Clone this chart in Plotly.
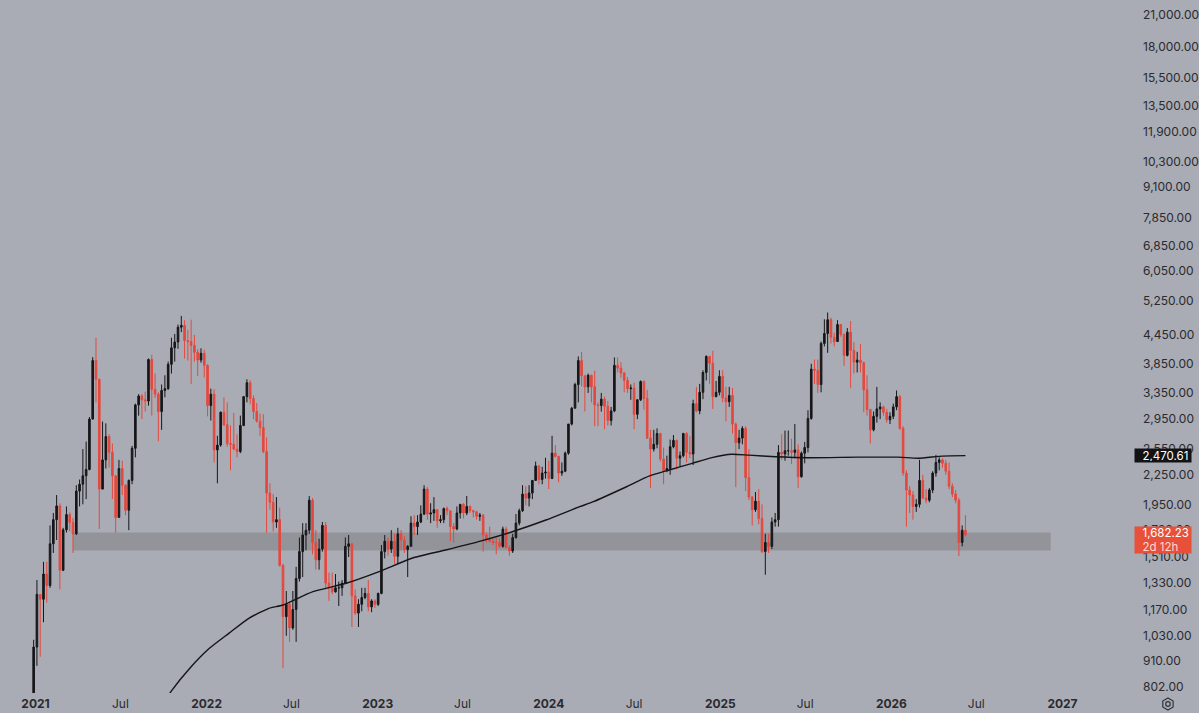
import math
import pandas as pd
import plotly.graph_objects as go

# ---------------- data (weekly OHLC, weeks starting 2020-12-28) ----------------
ohlc_2021 = [
    (737, 1010, 715, 975), (975, 1350, 890, 1259), (1259, 1260, 930, 1230), (1230, 1475, 1100, 1390),
    (1390, 1475, 1210, 1315), (1315, 1760, 1300, 1610), (1610, 1870, 1540, 1810), (1810, 2040, 1640, 1935),
    (1935, 1960, 1290, 1416), (1416, 1740, 1410, 1723), (1723, 1930, 1700, 1855), (1855, 1875, 1710, 1785),
    (1785, 1825, 1540, 1690), (1690, 2140, 1680, 2080), (2080, 2200, 1930, 2150), (2150, 2550, 1950, 2240),
    (2240, 2645, 2000, 2310), (2310, 2980, 2300, 2950), (2950, 3985, 2950, 3920), (3920, 4380, 3200, 3580),
    (3580, 3590, 1730, 2100), (2100, 2915, 2100, 2420), (2420, 2890, 2320, 2710), (2710, 2740, 2330, 2510),
    (2510, 2620, 2000, 2240), (2240, 2240, 1700, 1830), (1830, 2420, 1830, 2320), (2320, 2410, 2040, 2140),
    (2140, 2150, 1850, 1895), (1895, 2200, 1720, 2190), (2190, 2590, 2150, 2560), (2560, 3180, 2450, 3160),
    (3160, 3330, 3000, 3300), (3300, 3330, 2950, 3240), (3240, 3370, 3060, 3220), (3220, 3960, 3150, 3940),
    (3940, 4030, 3000, 3410), (3410, 3680, 3270, 3330), (3330, 3360, 2650, 3060), (3060, 3490, 2800, 3390),
    (3390, 3650, 3280, 3420), (3420, 3900, 3400, 3850), (3850, 4380, 3680, 4170), (4170, 4460, 3900, 4290),
    (4290, 4670, 4150, 4610), (4610, 4870, 4500, 4650), (4650, 4770, 3960, 4320), (4320, 4550, 3920, 4300),
    (4300, 4780, 3500, 4220), (4220, 4440, 3900, 4080), (4080, 4140, 3640, 3930), (3930, 4160, 3880, 4060),
    (4060, 4130, 3610, 3830),
]
ohlc_2022 = [
    (3830, 3850, 2990, 3150), (3150, 3420, 2930, 3330), (3330, 3410, 2390, 2540), (2540, 2720, 2160, 2600),
    (2600, 3060, 2580, 3050), (3050, 3280, 2850, 2870), (2870, 3200, 2580, 2620), (2620, 2860, 2300, 2610),
    (2610, 3040, 2540, 2550), (2550, 2740, 2450, 2520), (2520, 3000, 2500, 2860), (2860, 3300, 2850, 3290),
    (3290, 3580, 3200, 3520), (3520, 3560, 3170, 3260), (3260, 3310, 2950, 3060), (3060, 3190, 2900, 2920),
    (2920, 3030, 2720, 2830), (2830, 3020, 2500, 2520), (2520, 2700, 1700, 2060), (2060, 2160, 1900, 1970),
    (1970, 2050, 1710, 1790), (1790, 2020, 1740, 1810), (1810, 1920, 1440, 1450), (1450, 1460, 880, 1130),
    (1130, 1280, 1030, 1200), (1200, 1210, 1000, 1070), (1070, 1280, 1060, 1170), (1170, 1440, 1000, 1360),
    (1360, 1660, 1340, 1550), (1550, 1780, 1370, 1680), (1680, 1780, 1560, 1720), (1720, 2030, 1690, 1990),
    (1990, 2010, 1530, 1620), (1620, 1720, 1420, 1490), (1490, 1650, 1420, 1570), (1570, 1790, 1550, 1760),
    (1760, 1790, 1300, 1330), (1330, 1400, 1220, 1300), (1300, 1400, 1260, 1275), (1275, 1390, 1270, 1300),
    (1300, 1340, 1190, 1300), (1300, 1350, 1250, 1330), (1330, 1660, 1330, 1590), (1590, 1680, 1510, 1610),
    (1610, 1610, 1075, 1250), (1250, 1290, 1140, 1150), (1150, 1230, 1075, 1200), (1200, 1300, 1160, 1240),
    (1240, 1300, 1230, 1265), (1265, 1350, 1160, 1185), (1185, 1230, 1155, 1220), (1220, 1230, 1180, 1200),
]
ohlc_2023 = [
    (1200, 1270, 1190, 1265), (1265, 1600, 1260, 1550), (1550, 1680, 1500, 1630), (1630, 1660, 1520, 1570),
    (1570, 1720, 1540, 1630), (1630, 1690, 1460, 1515), (1515, 1740, 1460, 1690), (1690, 1720, 1560, 1640),
    (1640, 1670, 1540, 1565), (1565, 1600, 1370, 1590), (1590, 1840, 1590, 1780), (1780, 1850, 1680, 1750),
    (1750, 1850, 1680, 1790), (1790, 1940, 1780, 1860), (1860, 2140, 1850, 2100), (2100, 2120, 1810, 1860),
    (1860, 1960, 1780, 1870), (1870, 2020, 1800, 1900), (1900, 1900, 1740, 1800), (1800, 1850, 1780, 1810),
    (1810, 1920, 1780, 1910), (1910, 1930, 1850, 1890), (1890, 1890, 1630, 1750), (1750, 1780, 1620, 1730),
    (1730, 1930, 1720, 1870), (1870, 1950, 1820, 1950), (1950, 1960, 1820, 1870), (1870, 2030, 1850, 1930),
    (1930, 1940, 1870, 1890), (1890, 1900, 1830, 1880), (1880, 1890, 1810, 1840), (1840, 1870, 1800, 1850),
    (1850, 1860, 1550, 1680), (1680, 1700, 1620, 1650), (1650, 1750, 1620, 1630), (1630, 1660, 1600, 1620),
    (1620, 1660, 1530, 1620), (1620, 1650, 1580, 1590), (1590, 1750, 1580, 1730), (1730, 1750, 1580, 1580),
    (1580, 1600, 1520, 1555), (1555, 1690, 1540, 1660), (1660, 1860, 1650, 1780), (1780, 1910, 1760, 1890),
    (1890, 2140, 1880, 2050), (2050, 2130, 1940, 2010), (2010, 2140, 1930, 2060), (2060, 2190, 2000, 2190),
    (2190, 2400, 2190, 2350), (2350, 2360, 2150, 2200), (2200, 2340, 2150, 2270), (2270, 2445, 2210, 2280),
]
ohlc_2024 = [
    (2280, 2410, 2100, 2210), (2210, 2720, 2210, 2500), (2500, 2600, 2450, 2460), (2460, 2470, 2170, 2270),
    (2270, 2390, 2240, 2290), (2290, 2520, 2280, 2500), (2500, 2880, 2480, 2880), (2880, 3130, 2860, 3110),
    (3110, 3520, 3110, 3490), (3490, 4000, 3200, 3920), (3920, 4090, 3460, 3640), (3640, 3650, 3060, 3450),
    (3450, 3680, 3350, 3650), (3650, 3660, 3200, 3450), (3450, 3730, 2850, 3160), (3160, 3200, 2850, 3150),
    (3150, 3350, 3060, 3250), (3250, 3290, 2810, 3140), (3140, 3220, 2860, 2930), (2930, 3130, 2860, 3070),
    (3070, 3980, 3050, 3830), (3830, 3980, 3700, 3780), (3780, 3890, 3600, 3690), (3690, 3710, 3360, 3560),
    (3560, 3620, 3350, 3420), (3420, 3490, 3240, 3430), (3430, 3520, 2810, 3020), (3020, 3250, 2950, 3240),
    (3240, 3560, 3220, 3540), (3540, 3560, 3090, 3260), (3260, 3400, 2680, 2690), (2690, 2800, 2110, 2550),
    (2550, 2800, 2520, 2610), (2610, 2820, 2560, 2750), (2750, 2760, 2400, 2430), (2430, 2570, 2150, 2300),
    (2300, 2470, 2280, 2320), (2320, 2670, 2250, 2580), (2580, 2730, 2560, 2660), (2660, 2670, 2310, 2440),
    (2440, 2520, 2340, 2470), (2470, 2760, 2450, 2750), (2750, 2770, 2390, 2510), (2510, 2720, 2440, 2490),
    (2490, 3240, 2360, 3180), (3180, 3450, 3050, 3070), (3070, 3500, 3020, 3360), (3360, 3740, 3250, 3700),
    (3700, 4020, 3560, 4000), (4000, 4010, 3500, 3870), (3870, 4110, 3100, 3290), (3290, 3550, 3280, 3360),
    (3360, 3740, 3310, 3630),
]
ohlc_2025 = [
    (3630, 3740, 3200, 3270), (3270, 3450, 2920, 3210), (3210, 3450, 3130, 3310), (3310, 3430, 2750, 2880),
    (2880, 2900, 2120, 2630), (2630, 2800, 2550, 2690), (2690, 2850, 2610, 2820), (2820, 2850, 2080, 2220),
    (2220, 2550, 1990, 2020), (2020, 2030, 1760, 1900), (1900, 2070, 1880, 1980), (1980, 2100, 1770, 1820),
    (1820, 1950, 1540, 1550), (1550, 1690, 1385, 1620), (1620, 1690, 1540, 1590), (1590, 1830, 1570, 1790),
    (1790, 1870, 1750, 1810), (1810, 2600, 1750, 2510), (2510, 2740, 2420, 2490), (2490, 2790, 2410, 2530),
    (2530, 2790, 2470, 2530), (2530, 2680, 2370, 2510), (2510, 2880, 2440, 2540), (2540, 2610, 2110, 2230),
    (2230, 2520, 2220, 2500), (2500, 2640, 2380, 2570), (2570, 3080, 2510, 2960), (2960, 3860, 2940, 3760),
    (3760, 3940, 3500, 3740), (3740, 3940, 3350, 3490), (3490, 4300, 3360, 4260), (4260, 4790, 4200, 4470),
    (4470, 4950, 4070, 4780), (4780, 4830, 4260, 4390), (4390, 4490, 4200, 4300), (4300, 4770, 4290, 4670),
    (4670, 4680, 4400, 4450), (4450, 4470, 3820, 4020), (4020, 4590, 4000, 4500), (4500, 4750, 3435, 4120),
    (4120, 4290, 3680, 3890), (3890, 4090, 3700, 3930), (3930, 4250, 3700, 3880), (3880, 3900, 3050, 3400),
    (3400, 3650, 3000, 3090), (3090, 3100, 2620, 2800), (2800, 3060, 2780, 2990), (2990, 3450, 2900, 3100),
    (3100, 3200, 2950, 3130), (3130, 3150, 3000, 3050), (3050, 3100, 2900, 2940), (2940, 3050, 2880, 2990),
]
ohlc_2026 = [
    (2990, 3180, 2950, 3130), (3130, 3390, 3080, 3290), (3290, 3320, 2800, 2820), (2820, 2850, 2240, 2270),
    (2270, 2300, 1750, 2090), (2090, 2130, 1870, 2040), (2040, 2080, 1810, 1930), (1930, 2000, 1880, 1950),
    (1950, 2420, 1920, 2190), (2190, 2250, 2000, 2010), (2010, 2100, 1960, 1990), (1990, 2110, 1970, 2090),
    (2090, 2290, 2060, 2270), (2270, 2480, 2230, 2390), (2390, 2450, 2300, 2420), (2420, 2440, 2330, 2380),
    (2380, 2420, 2250, 2290), (2290, 2390, 2100, 2130), (2130, 2160, 2020, 2050), (2050, 2090, 1960, 1990),
    (1990, 2010, 1516, 1620), (1620, 1760, 1590, 1720), (1720, 1850, 1670, 1682.23),
]
first_week = "2020-12-28"

# 200-week moving average
ma_dates = ["2021-10-04", "2021-10-18", "2021-11-29", "2022-01-07", "2022-02-18", "2022-04-01",
            "2022-05-14", "2022-06-13", "2022-08-16", "2022-10-26", "2023-01-04", "2023-03-15",
            "2023-05-26", "2023-08-04", "2023-10-15", "2023-12-26", "2024-03-07", "2024-04-05",
            "2024-06-15", "2024-08-03", "2024-09-14", "2024-11-02", "2024-12-14", "2025-01-25",
            "2025-03-03", "2025-04-29", "2025-07-09", "2025-10-22", "2026-01-16", "2026-02-27",
            "2026-04-20", "2026-06-08"]
ma_values = [750, 788, 886, 969, 1043, 1121,
             1177, 1196, 1276, 1329, 1406, 1501,
             1562, 1627, 1707, 1807, 1928, 1975,
             2124, 2238, 2304, 2380, 2446, 2487,
             2476, 2457, 2446, 2452, 2452, 2439,
             2465, 2470.61]

# support zone
zone_low, zone_high = 1558, 1700
zone_start, zone_end = "2021-03-22", "2026-12-07"

# axes
ytick_vals = [21000, 18000, 15500, 13500, 11900, 10300, 9100, 7850, 6850, 6050, 5250, 4450,
              3850, 3350, 2950, 2550, 2250, 1950, 1720, 1510, 1330, 1170, 1030, 910, 802]
xtick_dates = ["2021-01-01", "2021-07-01", "2022-01-01", "2022-07-01", "2023-01-01", "2023-07-01",
               "2024-01-01", "2024-07-01", "2025-01-01", "2025-07-01", "2026-01-01", "2026-07-01",
               "2027-01-01"]
xtick_text = ["<b>2021</b>", "Jul", "<b>2022</b>", "Jul", "<b>2023</b>", "Jul", "<b>2024</b>", "Jul",
              "<b>2025</b>", "Jul", "<b>2026</b>", "Jul", "<b>2027</b>"]
last_price = 1682.23
ma_last = 2470.61
countdown = "2d 12h"

# ---------------- build ----------------
BG = "#a9acb4"
UP = "#17171a"
DOWN = "#e5483d"
TXT = "#2a2a2f"
FONT = "Inter"

rows = ohlc_2021 + ohlc_2022 + ohlc_2023 + ohlc_2024 + ohlc_2025 + ohlc_2026
dates = pd.date_range(first_week, periods=len(rows), freq="7D")
opens = [r[0] for r in rows]
closes = [r[3] for r in rows]
highs = [max(r) for r in rows]
lows = [min(r) for r in rows]

fig = go.Figure()
fig.add_trace(go.Candlestick(
    x=dates, open=opens, high=highs, low=lows, close=closes,
    increasing=dict(line=dict(color=UP, width=1), fillcolor=UP),
    decreasing=dict(line=dict(color=DOWN, width=1), fillcolor=DOWN),
    whiskerwidth=0, hoverinfo="skip",
))
fig.add_trace(go.Scatter(
    x=ma_dates, y=ma_values, mode="lines",
    line=dict(color="#151518", width=1.4, shape="spline", smoothing=0.6),
    hoverinfo="skip",
))

fig.add_shape(type="rect", xref="x", yref="y", x0=zone_start, x1=zone_end,
              y0=zone_low, y1=zone_high, fillcolor="rgb(146,148,154)",
              line=dict(width=0), layer="below")

W_PLOT, H_PLOT = 1136, 693
# settings (hexagon) icon in the bottom-right corner
cx, cy, r = 1170 / W_PLOT, -11 / H_PLOT, 6.0
pts = []
for i in range(6):
    a = math.radians(90 + 60 * i)
    pts.append((cx + r * math.cos(a) / W_PLOT, cy + r * math.sin(a) / H_PLOT))
path = "M " + " L ".join(f"{px:.5f},{py:.5f}" for px, py in pts) + " Z"
fig.add_shape(type="path", xref="paper", yref="paper", path=path,
              line=dict(color="#35353a", width=1.2))
rc = 2.3
fig.add_shape(type="circle", xref="paper", yref="paper",
              x0=cx - rc / W_PLOT, x1=cx + rc / W_PLOT, y0=cy - rc / H_PLOT, y1=cy + rc / H_PLOT,
              line=dict(color="#35353a", width=1.2))

nb = "\u00a0"
fig.add_annotation(
    xref="paper", x=1, xanchor="left", yref="y", y=math.log10(ma_last), yanchor="middle",
    text=f"{nb}{nb}{ma_last:,.2f}", showarrow=False, align="left", width=54, height=11,
    bgcolor="#131316", borderpad=1, font=dict(family=FONT, size=11.5, color="#ffffff"),
)
fig.add_annotation(
    xref="paper", x=1, xanchor="left", yref="y", y=math.log10(last_price), yanchor="middle",
    yshift=-5.5,
    text=f"{nb}{nb}{last_price:,.2f}<br>{nb}{nb}<span style='color:#ffd9d2'>{countdown}</span>",
    showarrow=False, align="left", width=54, height=24,
    bgcolor="#e8503a", borderpad=1, font=dict(family=FONT, size=11.5, color="#ffffff"),
)

fig.update_layout(
    width=1199, height=713,
    margin=dict(l=0, r=1199 - W_PLOT, t=0, b=713 - H_PLOT),
    paper_bgcolor=BG, plot_bgcolor=BG,
    showlegend=False, hovermode=False,
    font=dict(family=FONT, color=TXT),
    xaxis=dict(
        type="date", range=["2020-10-17 05:00", "2027-06-02 14:00"],
        rangeslider=dict(visible=False), showgrid=False, zeroline=False, showline=False,
        tickmode="array", tickvals=xtick_dates, ticktext=xtick_text, ticks="",
        tickfont=dict(family=FONT, size=12, color=TXT), ticklabelstandoff=2,
    ),
    yaxis=dict(
        type="log", side="right", range=[math.log10(780), math.log10(22585)],
        showgrid=False, zeroline=False, showline=False, ticks="",
        tickmode="array", tickvals=ytick_vals, ticktext=[f"{v:,.2f}" for v in ytick_vals],
        tickfont=dict(family=FONT, size=12, color=TXT), ticklabelstandoff=8,
    ),
)

fig.write_html("out.html", include_plotlyjs=True, full_html=True,
               config={"displayModeBar": False, "staticPlot": True},
               post_script="document.body.style.margin='0';")
